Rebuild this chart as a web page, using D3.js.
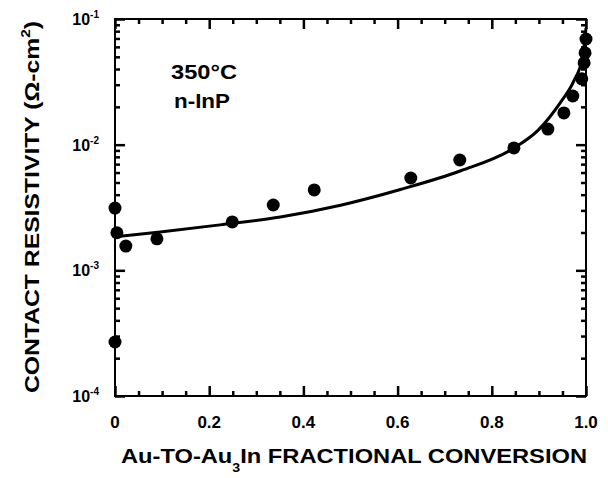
<!DOCTYPE html>
<html>
<head>
<meta charset="utf-8">
<script src="https://cdn.jsdelivr.net/npm/d3@7"></script>
<style>
  body { margin: 0; background: #fff; }
  svg { display: block; }
  text { font-family: "Liberation Sans", Arial, sans-serif; font-weight: bold; fill: #000; }
</style>
</head>
<body>
<div id="chart"></div>
<script>
// measured points: fraction converted vs contact resistivity (ohm-cm^2)
var conversion = [0, 0, 0.004, 0.023, 0.089, 0.249, 0.336, 0.423, 0.628, 0.732,
                  0.847, 0.919, 0.953, 0.972, 0.991, 0.996, 0.998, 1.0];
var resistivity = [3.13e-3, 2.69e-4, 1.99e-3, 1.56e-3, 1.78e-3, 2.43e-3, 3.31e-3, 4.36e-3, 5.43e-3, 7.55e-3,
                   9.42e-3, 1.33e-2, 1.79e-2, 2.44e-2, 3.34e-2, 4.47e-2, 5.37e-2, 6.93e-2];

// fitted curve
var curveX = [0, 0.096, 0.223, 0.351, 0.479, 0.606, 0.734, 0.847, 0.898, 0.947, 0.974, 0.993, 1.0];
var curveY = [1.85e-3, 2.02e-3, 2.30e-3, 2.66e-3, 3.30e-3, 4.40e-3, 6.20e-3, 9.40e-3, 1.30e-2, 2.20e-2, 3.20e-2, 5.0e-2, 8.5e-2];

var xTicks = [0, 0.2, 0.4, 0.6, 0.8, 1.0];
var xMinorTicks = [0.05, 0.1, 0.15, 0.25, 0.3, 0.35, 0.45, 0.5, 0.55, 0.65, 0.7, 0.75, 0.85, 0.9, 0.95];
var xTickLabels = ["0", "0.2", "0.4", "0.6", "0.8", "1.0"];
var yTicks = [1e-4, 1e-3, 1e-2, 1e-1];
var yTickExp = ["-4", "-3", "-2", "-1"];

var width = 608, height = 478;
var margin = { top: 19, right: 22, bottom: 82, left: 115 };

var svg = d3.select("#chart").append("svg")
    .attr("width", width)
    .attr("height", height);

var x = d3.scaleLinear().domain([0, 1]).range([margin.left, width - margin.right]);
var y = d3.scaleLog().domain([1e-4, 1e-1]).range([height - margin.bottom, margin.top]);

var x0 = x.range()[0], x1 = x.range()[1];
var y0 = y.range()[0], y1 = y.range()[1];

var yMinorTicks = y.ticks().filter(function(v) {
    var e = Math.log10(v);
    return Math.abs(e - Math.round(e)) > 1e-6;
});

// frame
svg.append("rect")
    .attr("x", x0).attr("y", y1)
    .attr("width", x1 - x0).attr("height", y0 - y1)
    .attr("fill", "none")
    .attr("stroke", "#000")
    .attr("stroke-width", 2);

// x tick labels
svg.append("g").selectAll("text")
    .data(xTicks)
    .enter().append("text")
    .attr("x", function(d) { return x(d); })
    .attr("y", y0 + 32)
    .attr("text-anchor", "middle")
    .attr("font-size", 17)
    .text(function(d, i) { return xTickLabels[i]; });

// y tick labels: 10 with superscript exponent
var yl = svg.append("g").selectAll("text")
    .data(yTicks)
    .enter().append("text")
    .attr("x", 99)
    .attr("y", function(d) { return y(d) + 6; })
    .attr("text-anchor", "end")
    .attr("font-size", 16);
yl.append("tspan").text("10");
yl.append("tspan")
    .attr("font-size", 10)
    .attr("dy", -7)
    .text(function(d, i) { return yTickExp[i]; });

// axis titles
var xt = svg.append("text")
    .attr("x", 121)
    .attr("y", 463)
    .attr("font-size", 20)
    .attr("textLength", 466)
    .attr("lengthAdjust", "spacingAndGlyphs");
xt.append("tspan").text("Au-TO-Au");
xt.append("tspan").attr("font-size", 12).attr("dy", 9).text("3");
xt.append("tspan").attr("dy", -9).text("In  FRACTIONAL  CONVERSION");

var yt = svg.append("text")
    .attr("transform", "translate(39," + 393 + ") rotate(-90)")
    .attr("font-size", 21)
    .attr("textLength", 372)
    .attr("lengthAdjust", "spacingAndGlyphs");
yt.append("tspan").text("CONTACT  RESISTIVITY  (Ω-cm");
yt.append("tspan").attr("font-size", 13).attr("dy", -9).text("2");
yt.append("tspan").attr("dy", 9).text(")");

// annotation
svg.append("text").attr("x", 171).attr("y", 79).attr("font-size", 20)
    .attr("textLength", 66).attr("lengthAdjust", "spacingAndGlyphs").text("350°C");
svg.append("text").attr("x", 174).attr("y", 108).attr("font-size", 20)
    .attr("textLength", 56).attr("lengthAdjust", "spacingAndGlyphs").text("n-InP");

// curve
var line = d3.line()
    .x(function(d) { return x(d[0]); })
    .y(function(d) { return y(d[1]); })
    .curve(d3.curveMonotoneX);

svg.append("path")
    .datum(d3.zip(curveX, curveY))
    .attr("d", line)
    .attr("fill", "none")
    .attr("stroke", "#000")
    .attr("stroke-width", 3);

// data points
svg.append("g").selectAll("circle")
    .data(d3.zip(conversion, resistivity))
    .enter().append("circle")
    .attr("cx", function(d) { return x(d[0]); })
    .attr("cy", function(d) { return y(d[1]); })
    .attr("r", 6.5)
    .attr("fill", "#000");

// inward ticks on every side, drawn last with d3 axes
function tickAxis(axis, tx, ty, values, size) {
    var g = svg.append("g")
        .attr("transform", "translate(" + tx + "," + ty + ")")
        .call(axis.tickValues(values).tickSize(size).tickFormat(""));
    g.select(".domain").remove();
    g.selectAll("line").attr("stroke", "#000").attr("stroke-width", 2.5);
}
tickAxis(d3.axisBottom(x), 0, y0, xTicks, -10);
tickAxis(d3.axisBottom(x), 0, y0, xMinorTicks, -5);
tickAxis(d3.axisTop(x), 0, y1, xTicks, -10);
tickAxis(d3.axisTop(x), 0, y1, xMinorTicks, -5);
tickAxis(d3.axisLeft(y), x0, 0, yTicks, -10);
tickAxis(d3.axisLeft(y), x0, 0, yMinorTicks, -5);
tickAxis(d3.axisRight(y), x1, 0, yTicks, -10);
tickAxis(d3.axisRight(y), x1, 0, yMinorTicks, -5);
</script>
</body>
</html>
